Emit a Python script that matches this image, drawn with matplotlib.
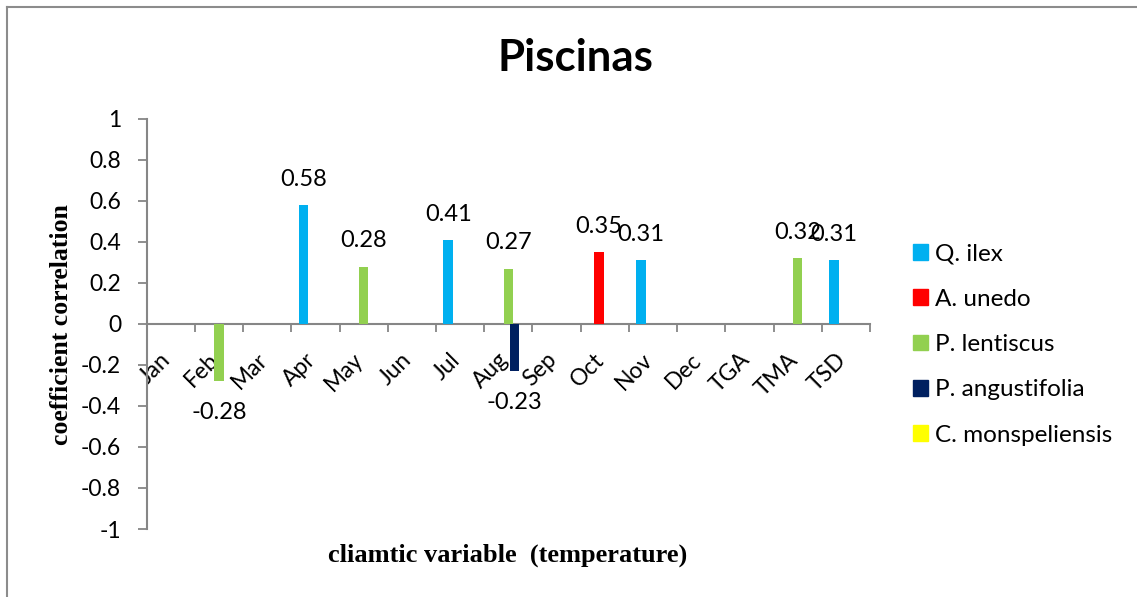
import numpy as np
import matplotlib
matplotlib.use('Agg')
import matplotlib.pyplot as plt
import matplotlib.lines as mlines
import matplotlib.patches as mpatches
from matplotlib.transforms import ScaledTranslation

# data
months = ['Jan', 'Feb', 'Mar', 'Apr', 'May', 'Jun', 'Jul', 'Aug', 'Sep',
          'Oct', 'Nov', 'Dec', 'TGA', 'TMA', 'TSD']
species = ['Q. ilex', 'A. unedo', 'P. lentiscus', 'P. angustifolia', 'C. monspeliensis']
colors = ['#00B0F0', '#FF0000', '#92D050', '#002060', '#FFFF00']

nan = np.nan
q_ilex = [nan, nan, nan, 0.58, nan, nan, 0.41, nan, nan, nan, 0.31, nan, nan, nan, 0.31]
a_unedo = [nan, nan, nan, nan, nan, nan, nan, nan, nan, 0.35, nan, nan, nan, nan, nan]
p_lentiscus = [nan, -0.28, nan, nan, 0.28, nan, nan, 0.27, nan, nan, nan, nan, nan, 0.32, nan]
p_angustifolia = [nan, nan, nan, nan, nan, nan, nan, -0.23, nan, nan, nan, nan, nan, nan, nan]
c_monspeliensis = [nan] * 15
series = [q_ilex, a_unedo, p_lentiscus, p_angustifolia, c_monspeliensis]

W, H = 1137, 597
fig = plt.figure(figsize=(W / 100, H / 100), dpi=100)
ax = fig.add_axes([146.7 / W, 1 - 529 / H, (870 - 146.7) / W, (529 - 119) / H])

gray = '#868686'
# spine position first: set_position resets the ticks
ax.spines['bottom'].set_position(('data', 0))
ax.spines['bottom'].set_color(gray)
ax.spines['bottom'].set_linewidth(1.5)
ax.spines['left'].set_color(gray)
ax.spines['left'].set_linewidth(1.5)
ax.spines['top'].set_visible(False)
ax.spines['right'].set_visible(False)

x = np.arange(len(months))
step = 0.124
bw = 0.197
for k, (vals, c) in enumerate(zip(series, colors)):
    vals = np.array(vals, dtype=float)
    ax.bar(x + (k - 2) * step, np.nan_to_num(vals), bw, color=c, zorder=3)
    for xi, v in zip(x + (k - 2) * step, vals):
        if np.isnan(v):
            continue
        if v >= 0:
            ax.annotate('{:.2f}'.format(v), (xi, v), xytext=(0, 11), textcoords='offset points',
                        ha='center', va='bottom', fontsize=17, family='Lato', zorder=5)
        else:
            ax.annotate('{:.2f}'.format(v), (xi, v), xytext=(0, -15), textcoords='offset points',
                        ha='center', va='top', fontsize=17, family='Lato', zorder=5)

ax.set_xlim(-0.5, len(months) - 0.5)
ax.set_ylim(-1, 1)

ax.set_yticks(np.linspace(-1, 1, 11))
ax.set_yticklabels(['-1', '-0.8', '-0.6', '-0.4', '-0.2', '0', '0.2', '0.4', '0.6', '0.8', '1'],
                   family='Lato', fontsize=16.5)

# labels at category centres, tick marks at category boundaries
ax.set_xticks(x)
ax.set_xticklabels(months, rotation=45, ha='right', va='top', family='Lato', fontsize=16.5)
ax.set_xticks(np.arange(-0.5, len(months), 1.0), minor=True)
ax.tick_params(axis='x', which='major', length=0, pad=18)
ax.tick_params(axis='x', which='minor', direction='out', length=6, width=1.3, color=gray)
ax.tick_params(axis='y', direction='out', length=6.5, width=1.3, color=gray, pad=12)
for lab in ax.get_xticklabels():
    lab.set_transform(lab.get_transform() + ScaledTranslation(4 / 100, 0, fig.dpi_scale_trans))

fig.text(575 / W, 1 - 58 / H, 'Piscinas', ha='center', va='center',
         fontsize=31.5, fontweight='bold', family='Lato')
fig.text(62 / W, 1 - 325 / H, 'coefficient correlation', rotation=90, ha='center', va='center',
         fontsize=18.5, fontweight='bold', family='Liberation Serif')
fig.text(508 / W, 1 - 555 / H, 'cliamtic variable  (temperature)', ha='center', va='center',
         fontsize=19, fontweight='bold', family='Liberation Serif')

handles = [mpatches.Patch(color=c, label=s) for s, c in zip(species, colors)]
fig.legend(handles=handles, loc='center left', bbox_to_anchor=(913 / W, 1 - 344.5 / H),
           frameon=False, prop={'family': 'Lato', 'size': 17.5},
           handlelength=0.62, handleheight=0.62, handletextpad=0.3,
           labelspacing=1.0, borderpad=0, borderaxespad=0)

# outer chart border (top and left edges visible)
fig.add_artist(mlines.Line2D([7 / W, 1], [1 - 7 / H, 1 - 7 / H], color='#8c8c8c', lw=1.5,
                             transform=fig.transFigure))
fig.add_artist(mlines.Line2D([7 / W, 7 / W], [0, 1 - 7 / H], color='#8c8c8c', lw=1.5,
                             transform=fig.transFigure))

fig.savefig('out.png', dpi=100)
